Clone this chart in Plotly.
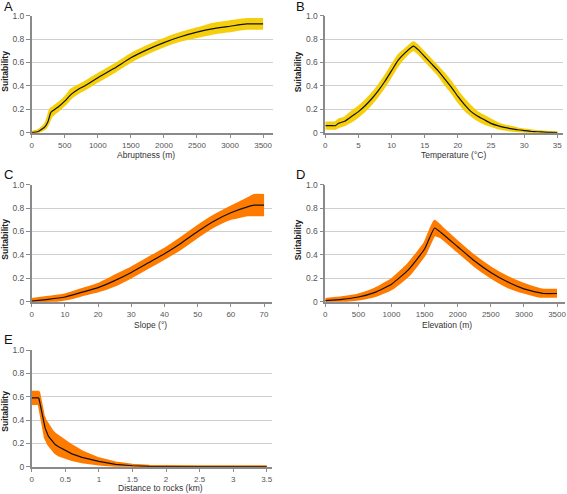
import plotly.graph_objects as go

# ---------- data ----------
a_x = [0, 100, 200, 250, 280, 300, 400, 500, 600, 700, 800, 1000, 1250, 1500, 1750, 2000, 2250, 2500, 2750, 3000, 3250, 3500]
a_mean = [0, 0.01, 0.05, 0.1, 0.16, 0.18, 0.22, 0.27, 0.33, 0.37, 0.4, 0.47, 0.55, 0.64, 0.71, 0.77, 0.82, 0.86, 0.89, 0.91, 0.93, 0.93]
a_lo = [0, 0.005, 0.035, 0.08, 0.12, 0.14, 0.19, 0.24, 0.3, 0.34, 0.37, 0.44, 0.52, 0.61, 0.68, 0.74, 0.79, 0.82, 0.85, 0.87, 0.89, 0.89]
a_hi = [0.005, 0.02, 0.07, 0.14, 0.2, 0.21, 0.25, 0.3, 0.37, 0.4, 0.43, 0.5, 0.58, 0.67, 0.74, 0.8, 0.85, 0.89, 0.93, 0.95, 0.97, 0.97]

b_x = [0, 1, 1.5, 2, 3, 4, 5, 6, 7, 8, 9, 10, 11, 12, 13, 13.3, 14, 15, 16, 17, 18, 19, 20, 21, 22, 23, 24, 25, 26, 27, 28, 29, 30, 31, 32, 33, 34, 35]
b_mean = [0.06, 0.06, 0.06, 0.08, 0.1, 0.14, 0.18, 0.23, 0.29, 0.36, 0.44, 0.53, 0.62, 0.68, 0.73, 0.74, 0.71, 0.65, 0.59, 0.53, 0.46, 0.39, 0.31, 0.24, 0.18, 0.14, 0.11, 0.08, 0.06, 0.045, 0.035, 0.025, 0.018, 0.012, 0.008, 0.005, 0.002, 0.001]
b_lo = [0.035, 0.035, 0.035, 0.05, 0.07, 0.1, 0.14, 0.19, 0.25, 0.32, 0.4, 0.49, 0.58, 0.65, 0.7, 0.71, 0.68, 0.62, 0.56, 0.5, 0.42, 0.35, 0.27, 0.2, 0.15, 0.11, 0.08, 0.06, 0.04, 0.03, 0.02, 0.015, 0.01, 0.006, 0.004, 0.002, 0.001, 0]
b_hi = [0.085, 0.085, 0.085, 0.11, 0.13, 0.18, 0.22, 0.27, 0.33, 0.4, 0.48, 0.57, 0.66, 0.71, 0.76, 0.77, 0.74, 0.68, 0.62, 0.56, 0.5, 0.43, 0.35, 0.28, 0.22, 0.17, 0.14, 0.11, 0.08, 0.06, 0.05, 0.035, 0.025, 0.018, 0.012, 0.008, 0.004, 0.002]

c_x = [0, 5, 10, 15, 20, 25, 30, 35, 40, 45, 50, 55, 60, 65, 67, 70]
c_mean = [0.005, 0.02, 0.04, 0.08, 0.12, 0.18, 0.25, 0.33, 0.41, 0.5, 0.6, 0.69, 0.76, 0.81, 0.825, 0.825]
c_lo = [-0.01, 0.0, 0.02, 0.055, 0.09, 0.14, 0.21, 0.29, 0.37, 0.455, 0.555, 0.645, 0.71, 0.74, 0.74, 0.74]
c_hi = [0.02, 0.04, 0.06, 0.105, 0.15, 0.22, 0.29, 0.37, 0.45, 0.545, 0.645, 0.735, 0.81, 0.88, 0.91, 0.91]

d_x = [0, 250, 500, 750, 1000, 1250, 1500, 1650, 1750, 2000, 2250, 2500, 2750, 3000, 3250, 3300, 3500]
d_mean = [0.01, 0.02, 0.04, 0.08, 0.15, 0.27, 0.45, 0.63, 0.59, 0.47, 0.35, 0.25, 0.17, 0.11, 0.075, 0.07, 0.07]
d_lo = [0.0, 0.005, 0.02, 0.05, 0.11, 0.22, 0.4, 0.57, 0.55, 0.43, 0.31, 0.21, 0.13, 0.08, 0.045, 0.045, 0.045]
d_hi = [0.02, 0.035, 0.06, 0.11, 0.19, 0.32, 0.5, 0.69, 0.64, 0.51, 0.39, 0.29, 0.21, 0.15, 0.105, 0.1, 0.1]

e_x = [0, 0.1, 0.11, 0.13, 0.15, 0.175, 0.2, 0.25, 0.3, 0.35, 0.4, 0.5, 0.6, 0.75, 0.9, 1.0, 1.25, 1.5, 1.75, 2.0, 2.5, 3.5]
e_mean = [0.59, 0.59, 0.58, 0.52, 0.45, 0.38, 0.33, 0.26, 0.22, 0.19, 0.17, 0.14, 0.11, 0.08, 0.057, 0.045, 0.02, 0.008, 0.003, 0.001, 0, 0]
e_lo = [0.54, 0.54, 0.53, 0.47, 0.4, 0.31, 0.25, 0.19, 0.15, 0.12, 0.1, 0.08, 0.06, 0.04, 0.027, 0.02, 0.008, 0.003, 0.001, 0, 0, 0]
e_hi = [0.64, 0.64, 0.63, 0.57, 0.5, 0.44, 0.4, 0.35, 0.31, 0.28, 0.26, 0.22, 0.18, 0.13, 0.09, 0.07, 0.035, 0.015, 0.005, 0.002, 0, 0]

y_ticks = [0, 0.2, 0.4, 0.6, 0.8, 1.0]
y_labels = ["0", "0.2", "0.4", "0.6", "0.8", "1.0"]

YELLOW = "#F6CF0C"
ORANGE = "#FF7B00"

W, H = 567, 494

def fx(px):
    return px / W

def fy(py):
    return 1 - py / H

# letter, x, mean, lo, hi, color, xdomain px, ydomain px, xrange, xticks, xticktext, xtitle, shape,
# letter pos, y-title centre y, x-title centre (x, y)
panels = [
    ("A", a_x, a_mean, a_lo, a_hi, YELLOW, (31.7, 273), (15.7, 132.7), [0, 3650], list(range(0, 3501, 500)), None,
     "Abruptness (m)", "spline", (8.5, 6.5), 71, (146, 155.5)),
    ("B", b_x, b_mean, b_lo, b_hi, YELLOW, (325.3, 563), (15.7, 132.7), [0, 35.86], list(range(0, 36, 5)), None,
     "Temperature (°C)", "spline", (300, 6), 72, (453, 155.5)),
    ("C", c_x, c_mean, c_lo, c_hi, ORANGE, (31.7, 271.7), (184.7, 301.7), [0, 72.3], list(range(0, 71, 10)), None,
     "Slope (°)", "spline", (8.5, 174.5), 239, (150, 324.5)),
    ("D", d_x, d_mean, d_lo, d_hi, ORANGE, (325.3, 564.7), (184.7, 301.7), [0, 3616], list(range(0, 3501, 500)), None,
     "Elevation (m)", "spline", (300, 174.5), 240, (447, 324.5)),
    ("E", e_x, e_mean, e_lo, e_hi, ORANGE, (31.7, 271.7), (350, 466.7), [0, 3.574], [0, 0.5, 1, 1.5, 2, 2.5, 3, 3.5],
     ["0", "0.5", "1", "1.5", "2", "2.5", "3", "3.5"], "Distance to rocks (km)", "linear", (8.5, 339.5), 411, (160.5, 488)),
]

fig = go.Figure()
annotations = []
FONT = "Liberation Sans, Arial, sans-serif"

for i, (letter, x, mean, lo, hi, col, xd, yd, xr, xt, xtt, xtitle, shp, lpos, ytc, xtc) in enumerate(panels):
    n = "" if i == 0 else str(i + 1)
    xa, ya = "x" + n, "y" + n
    ln = dict(shape=shp)
    if shp == "spline":
        ln["smoothing"] = 0.4
    fig.add_trace(go.Scatter(x=x, y=lo, mode="lines", line=dict(color=col, width=2.5, **ln),
                             xaxis=xa, yaxis=ya, showlegend=False, hoverinfo="skip"))
    fig.add_trace(go.Scatter(x=x, y=hi, mode="lines", line=dict(color=col, width=2.5, **ln),
                             fill="tonexty", fillcolor=col, xaxis=xa, yaxis=ya, showlegend=False, hoverinfo="skip"))
    fig.add_trace(go.Scatter(x=x, y=mean, mode="lines", line=dict(color="#111111", width=1.2, **ln),
                             xaxis=xa, yaxis=ya, showlegend=False))
    xkey = "xaxis" + n
    ykey = "yaxis" + n
    fig.layout[xkey] = dict(
        domain=[fx(xd[0]), fx(xd[1])], range=xr, anchor=ya,
        tickvals=xt, ticktext=xtt if xtt else [str(v) for v in xt],
        showgrid=False, zeroline=False, showline=True, linecolor="#8a8a8a", linewidth=1.5,
        ticks="outside", ticklen=4, tickcolor="#8a8a8a", tickwidth=1,
        tickfont=dict(size=8, color="#555555", family=FONT), fixedrange=True, automargin=False,
        ticklabeloverflow="allow",
    )
    fig.layout[ykey] = dict(
        domain=[fy(yd[1]), fy(yd[0])], range=[0, 1.0], anchor=xa,
        tickvals=y_ticks, ticktext=y_labels,
        showgrid=True, gridcolor="#cfcfcf", gridwidth=1, zeroline=False,
        showline=True, linecolor="#8a8a8a", linewidth=1.5,
        ticks="outside", ticklen=4, tickcolor="#8a8a8a", tickwidth=1,
        tickfont=dict(size=8.5, color="#555555", family=FONT), fixedrange=True, automargin=False,
        ticklabeloverflow="allow",
    )
    left = xd[0]
    annotations.append(dict(text=letter, x=fx(lpos[0]), y=fy(lpos[1]), xref="paper", yref="paper",
                            xanchor="center", yanchor="middle", showarrow=False,
                            font=dict(size=13, color="#111111", family=FONT)))
    annotations.append(dict(text="<b>Suitability</b>", x=fx(left - 27), y=fy(ytc),
                            xref="paper", yref="paper", textangle=-90, xanchor="center", yanchor="middle",
                            showarrow=False, font=dict(size=8.5, color="#222222", family=FONT)))
    annotations.append(dict(text=xtitle, x=fx(xtc[0]), y=fy(xtc[1]),
                            xref="paper", yref="paper", xanchor="center", yanchor="middle",
                            showarrow=False, font=dict(size=8.5, color="#333333", family=FONT)))

fig.update_layout(width=W, height=H, margin=dict(l=0, r=0, t=0, b=0, autoexpand=False),
                  paper_bgcolor="white", plot_bgcolor="white",
                  annotations=annotations, font=dict(family=FONT))
fig.write_html("out.html", config={"displayModeBar": False},
               post_script="document.body.style.margin='0';document.body.style.overflow='hidden';")
